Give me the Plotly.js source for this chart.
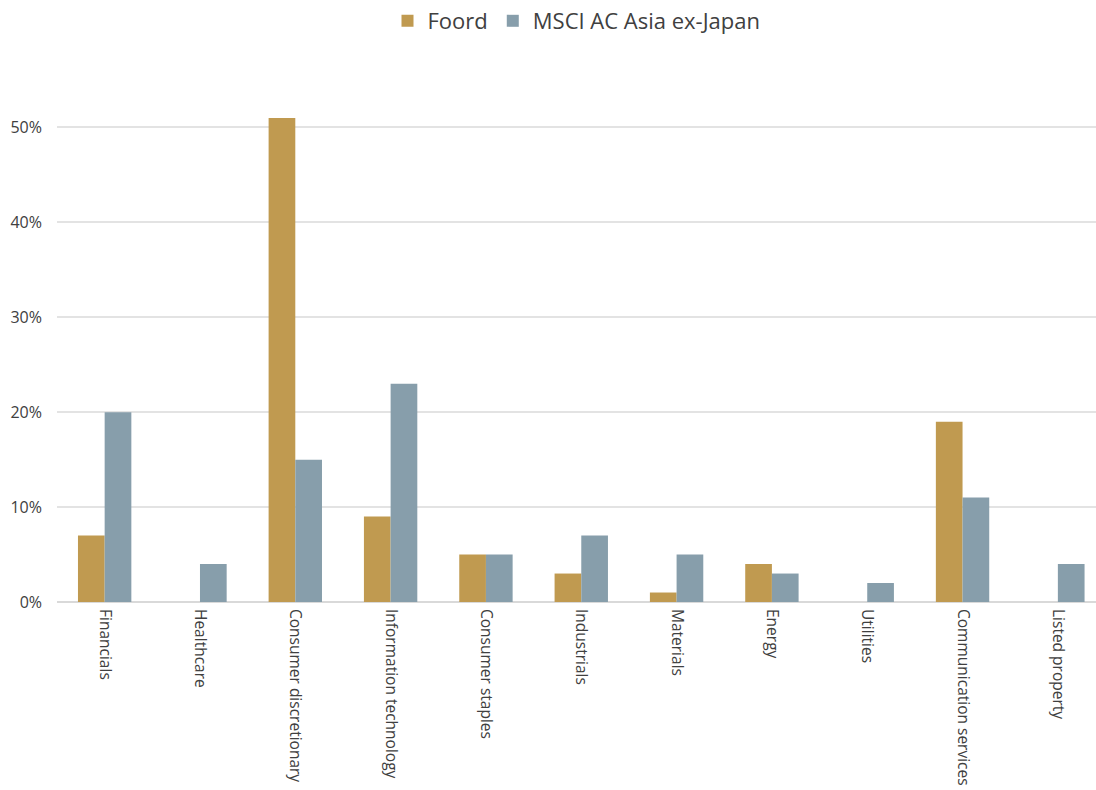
<!DOCTYPE html>
<html>
<head>
<meta charset="utf-8">
<script src="https://cdn.plot.ly/plotly-3.0.1.min.js"></script>
<style>html,body{margin:0;padding:0;background:#fff;}#chart{width:1096px;height:790px;}</style>
</head>
<body>
<div id="chart"></div>
<script>
const categories = ["Financials","Healthcare","Consumer discretionary","Information technology","Consumer staples","Industrials","Materials","Energy","Utilities","Communication services","Listed property"];
const foord = [0.07, 0, 0.51, 0.09, 0.05, 0.03, 0.01, 0.04, 0, 0.19, 0];
const msci = [0.20, 0.04, 0.15, 0.23, 0.05, 0.07, 0.05, 0.03, 0.02, 0.11, 0.04];
const seriesNames = ["Foord", "MSCI AC Asia ex-Japan"];

const fontFam = '"Open Sans", "Noto Sans", sans-serif';
const traces = [
  {type:'bar', name:seriesNames[0], x:categories, y:foord, marker:{color:'#C09A50', line:{width:0}}},
  {type:'bar', name:seriesNames[1], x:categories, y:msci, marker:{color:'#879EAB', line:{width:0}}}
];
const layout = {
  width:1096, height:790,
  margin:{l:57, r:0, t:78, b:188},
  paper_bgcolor:'#fff', plot_bgcolor:'#fff',
  font:{family:fontFam, color:'#404040', size:16},
  barmode:'group', bargap:0.44, bargroupgap:0,
  showlegend:true,
  legend:{orientation:'h', x:0.5, xanchor:'center', xref:'paper', y:1.114, yref:'paper', yanchor:'middle', font:{size:22, color:'#404040'}, traceorder:'normal', itemwidth:30},
  xaxis:{type:'category', range:[-0.5, 10.4], tickangle:90, showgrid:false, showline:false, ticks:'', ticklabelstandoff:6, tickfont:{size:15.5, color:'#404040'}, automargin:false},
  yaxis:{range:[0, 0.55], dtick:0.1, tick0:0, tickformat:'.0%', showgrid:true, gridcolor:'#e3e3e3', gridwidth:2, zeroline:true, zerolinecolor:'#d9d9d9', zerolinewidth:2, ticks:'', ticklabelstandoff:14, tickfont:{size:16, color:'#404040'}, automargin:false}
};
Plotly.newPlot('chart', traces, layout, {displayModeBar:false, staticPlot:true});
</script>
</body>
</html>
